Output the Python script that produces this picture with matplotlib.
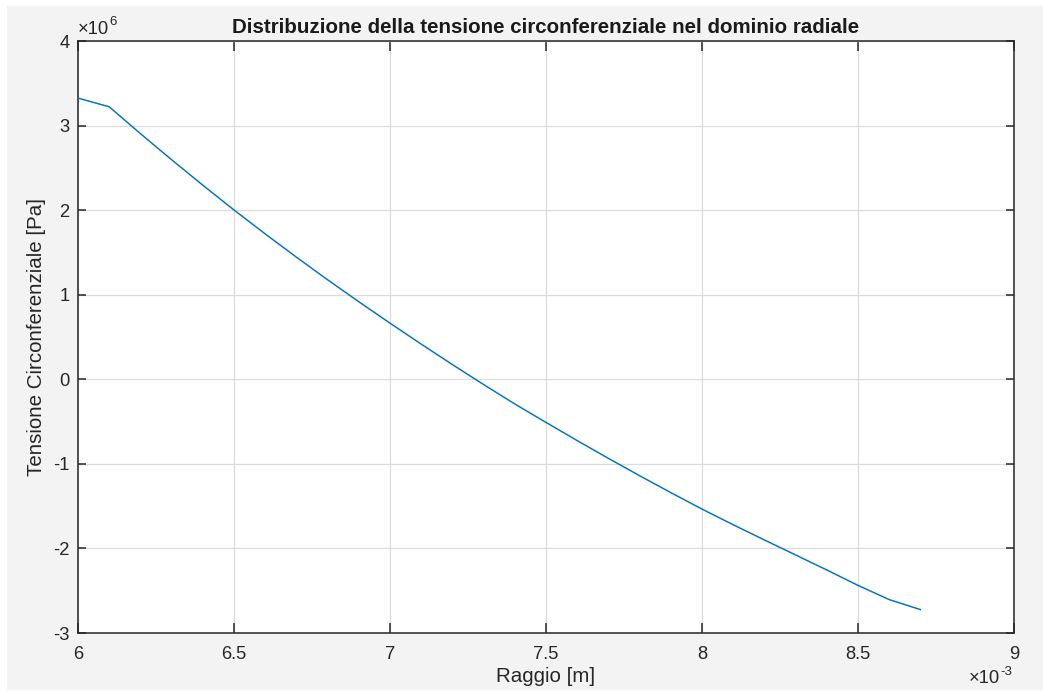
import matplotlib
matplotlib.use("Agg")
import matplotlib.pyplot as plt
from matplotlib.patches import Rectangle
from matplotlib.ticker import FixedLocator, FuncFormatter

# Radial coordinate [m] and hoop stress [Pa]
raggio = [6.0e-3, 6.1e-3, 6.2e-3, 6.3e-3, 6.4e-3, 6.5e-3, 6.6e-3, 6.7e-3,
          6.8e-3, 6.9e-3, 7.0e-3, 7.1e-3, 7.2e-3, 7.3e-3, 7.4e-3, 7.5e-3,
          7.6e-3, 7.7e-3, 7.8e-3, 7.9e-3, 8.0e-3, 8.1e-3, 8.2e-3, 8.3e-3,
          8.4e-3, 8.5e-3, 8.6e-3, 8.7e-3]
tensione = [3.325e6, 3.222e6, 2.905e6, 2.596e6, 2.295e6, 2.002e6, 1.719e6,
            1.444e6, 1.177e6, 0.917e6, 0.664e6, 0.416e6, 0.174e6, -0.062e6,
            -0.292e6, -0.510e6, -0.725e6, -0.935e6, -1.140e6, -1.340e6,
            -1.535e6, -1.720e6, -1.900e6, -2.077e6, -2.255e6, -2.437e6,
            -2.605e6, -2.723e6]

x_ticks = [6.0e-3, 6.5e-3, 7.0e-3, 7.5e-3, 8.0e-3, 8.5e-3, 9.0e-3]
y_ticks = [-3e6, -2e6, -1e6, 0, 1e6, 2e6, 3e6, 4e6]

W, H = 1043, 691
fig = plt.figure(figsize=(W / 100, H / 100), dpi=100)
fig.patch.set_facecolor("white")
fig.add_artist(Rectangle((7 / W, 1 / H), 1.0, 1 - 7 / H,
                         transform=fig.transFigure, facecolor="#f3f3f3",
                         edgecolor="none", zorder=-10))

plt.rcParams["font.family"] = ["Liberation Sans", "DejaVu Sans"]

AX_L, AX_R, AX_T, AX_B = 78, 1014, 41, 633
ax = fig.add_axes([AX_L / W, 1 - AX_B / H, (AX_R - AX_L) / W, (AX_B - AX_T) / H])
ax.set_facecolor("white")

ax.plot(raggio, tensione, color="#0072BD", lw=1.05, zorder=3)

ax.set_xlim(6e-3, 9e-3)
ax.set_ylim(-3e6, 4e6)
ax.xaxis.set_major_locator(FixedLocator(x_ticks))
ax.yaxis.set_major_locator(FixedLocator(y_ticks))
ax.xaxis.set_major_formatter(FuncFormatter(lambda v, p: f"{v * 1e3:g}"))
ax.yaxis.set_major_formatter(FuncFormatter(lambda v, p: f"{v / 1e6:g}"))

ax.grid(True, color="#dcdcdc", lw=0.9, zorder=0)
ax.set_axisbelow(True)

for s in ax.spines.values():
    s.set_color("#262626")
    s.set_linewidth(1.1)

ax.tick_params(axis="both", which="major", direction="in", colors="#262626",
               labelsize=13.2, width=1.1, top=True, right=True)
ax.tick_params(axis="x", length=7, pad=9.5)
ax.tick_params(axis="y", length=6, pad=6)

ax.set_xlabel("Raggio [m]", fontsize=14.8, color="#262626", labelpad=3)
ax.set_ylabel("Tensione Circonferenziale [Pa]", fontsize=14.8,
              color="#262626", labelpad=5)
ax.set_title("Distribuzione della tensione circonferenziale nel dominio radiale",
             fontsize=14.8, fontweight="bold", color="#1a1a1a", pad=5.7)

# Axis exponent multipliers: base "×10" plus a raised exponent
span = AX_B - AX_T
base_y = ax.text(0.0, (AX_B - 33.5) / span, "\u00d710", transform=ax.transAxes,
                 ha="left", va="baseline", fontsize=13.2, color="#262626")
ax.annotate("6", xy=(1.0, 1.0), xycoords=base_y, xytext=(0.5, 3),
            textcoords="offset points", ha="left", va="top",
            fontsize=9.5, color="#262626")

base_x = ax.text((1012 - 12 - AX_L) / (AX_R - AX_L), (AX_B - 683) / span,
                 "\u00d710", transform=ax.transAxes,
                 ha="right", va="baseline", fontsize=13.2, color="#262626")
ax.annotate("-3", xy=(1.0, 1.0), xycoords=base_x, xytext=(0.5, 3),
            textcoords="offset points", ha="left", va="top",
            fontsize=9.5, color="#262626")

fig.savefig("out.png", dpi=100, facecolor=fig.get_facecolor())
